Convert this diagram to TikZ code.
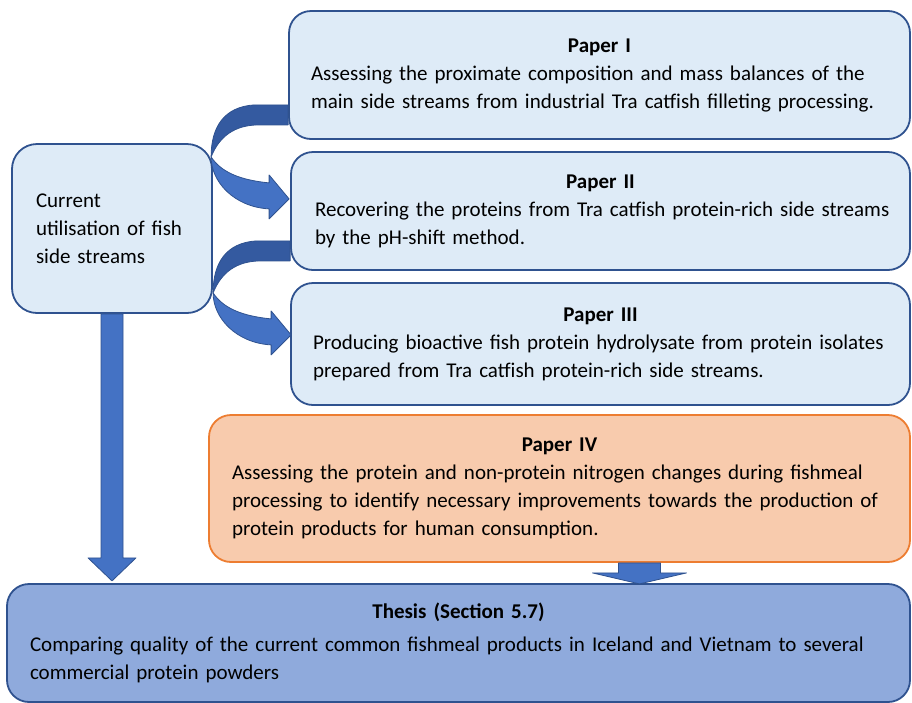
\documentclass[tikz,border=0pt]{standalone}
\usepackage{fontspec}
\setmainfont{Carlito}
\definecolor{boxblue}{RGB}{222,235,247}
\definecolor{edgeblue}{RGB}{47,82,143}
\definecolor{arrowblue}{RGB}{68,114,196}
\definecolor{arrowdark}{RGB}{52,90,160}
\definecolor{paperorange}{RGB}{248,203,173}
\definecolor{edgeorange}{RGB}{237,125,49}
\definecolor{thesisblue}{RGB}{143,170,220}

\begin{document}
\begin{tikzpicture}[x=1pt,y=-1pt,
  paperbox/.style={draw=edgeblue,fill=boxblue,line width=1.8pt,rounded corners=22pt,
    inner sep=0pt,align=left,font=\fontsize{21}{28}\selectfont},
  blockarrow/.style={fill=arrowblue,draw=edgeblue,line width=0.8pt,line join=round},
  backarrow/.style={fill=arrowdark,draw=edgeblue,line width=0.8pt,line join=round}]
  \useasboundingbox (0,0) rectangle (912,702);
  % Papers
  \node[paperbox,minimum width=621,minimum height=128,text width=577] (p1) at (599.5,75) {
    \hfill\textbf{Paper I}\hfill\null\\
    Assessing the proximate composition and mass balances of the\\
    \mbox{main side streams from industrial Tra catfish filleting processing.}};
  \node[paperbox,minimum width=619,minimum height=118,text width=571] (p2) at (600.5,211) {
    \hfill\textbf{Paper II}\hfill\null\\
    \mbox{Recovering the proteins from Tra catfish protein-rich side streams}\\
    by the pH-shift method.};
  \node[paperbox,minimum width=619,minimum height=122,text width=575] (p3) at (600.5,344) {
    \hfill\textbf{Paper III}\hfill\null\\
    \mbox{Producing bioactive fish protein hydrolysate from protein isolates}\\
    prepared from Tra catfish protein-rich side streams.};
  \node[paperbox,draw=edgeorange,fill=paperorange,minimum width=701,minimum height=147,text width=655] (p4) at (559.5,488.5) {
    \hfill\textbf{Paper IV}\hfill\null\\
    Assessing the protein and non-protein nitrogen changes during fishmeal\\
    \mbox{processing to identify necessary improvements towards the production of}\\
    protein products for human consumption.};
  % Current utilisation
  \node[paperbox,rounded corners=25pt,minimum width=200,minimum height=169,text width=152] (cur) at (112,228.5) {
    Current\\
    utilisation of fish\\
    side streams};
  % Thesis
  \node[paperbox,fill=thesisblue,minimum width=903,minimum height=118,text width=857] (thesis) at (458.5,643) {
    \hfill\textbf{Thesis (Section 5.7)}\hfill\null\\[5pt]
    Comparing quality of the current common fishmeal products in Iceland and Vietnam to several\\
    commercial protein powders};
  % Curved arrows
  \coordinate (a1) at ([yshift=35pt]p1.south west);
  \coordinate (a2) at ([yshift=30pt]p2.south west);
  \foreach \a in {a1,a2}{
    \begin{scope}[shift={(\a)}]
      \filldraw[backarrow] (0,0) -- (-34,0) .. controls (-64,2) and (-77,22) .. (-77,52)
        .. controls (-69,32) and (-54,20) .. (-29,20) -- (0,20) -- cycle;
      \filldraw[blockarrow] (-77,52) .. controls (-77,77) and (-54,102) .. (-19,104)
        -- (-19,114) -- (1,94) -- (-19,70) -- (-19,78)
        .. controls (-49,75) and (-67,67) .. (-77,52) -- cycle;
    \end{scope}
  }
  % Straight arrows
  \filldraw[blockarrow] ([xshift=-11pt]cur.south) -- ++(0,244) -- ++(-13,0) -- ++(24,23)
    -- ++(24,-23) -- ++(-13,0) -- ([xshift=11pt]cur.south) -- cycle;
  \filldraw[blockarrow] ([xshift=59pt]p4.south) -- ++(0,10) -- ++(-26,0) -- ++(47,11)
    -- ++(47,-11) -- ++(-26,0) -- ([xshift=101pt]p4.south) -- cycle;
\end{tikzpicture}
\end{document}
